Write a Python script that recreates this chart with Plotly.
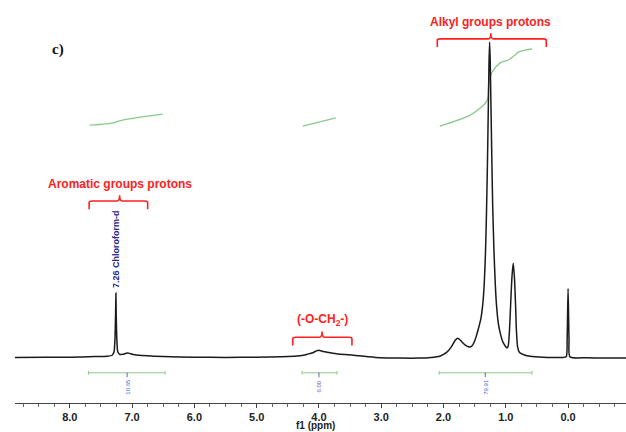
import plotly.graph_objects as go

# 1H NMR spectrum (ppm, relative intensity; main peak = 100)
ppm = [8.90, 8.40, 8.00, 7.60, 7.40, 7.32, 7.29, 7.275, 7.265, 7.26, 7.255, 7.245, 7.23,
       7.20, 7.15, 7.08, 7.04, 7.00, 6.90, 6.50, 6.00, 5.50, 5.00, 4.60, 4.40, 4.25, 4.19,
       4.10, 4.04, 4.00, 3.95, 3.82, 3.70, 3.47, 3.20, 3.02, 2.70, 2.40, 2.20, 2.06, 1.95,
       1.88, 1.82, 1.79, 1.77, 1.74, 1.70, 1.65, 1.60, 1.57, 1.53, 1.50, 1.47, 1.44, 1.40,
       1.37, 1.345, 1.325, 1.31, 1.295, 1.28, 1.27, 1.26, 1.25, 1.24, 1.225, 1.21, 1.19,
       1.17, 1.15, 1.12, 1.09, 1.04, 0.98, 0.96, 0.94, 0.92, 0.90, 0.88, 0.86, 0.84,
       0.83, 0.81, 0.78, 0.70, 0.61, 0.40, 0.10, 0.03, 0.015, 0.0, -0.015, -0.03, -0.30, -0.93]
intensity = [0.2, 0.3, 0.3, 0.5, 0.6, 0.9, 2.0, 6.0, 14.0, 20.6, 14.0, 6.0, 2.0,
             1.2, 1.2, 1.6, 1.5, 1.2, 0.9, 0.5, 0.3, 0.2, 0.3, 0.4, 0.6, 0.9, 1.2,
             1.7, 2.3, 2.5, 2.2, 1.7, 1.3, 1.0, 0.4, 0.1, 0.0, 0.0, 0.2, 0.6, 1.8,
             3.4, 5.4, 6.1, 6.3, 5.9, 5.0, 4.1, 3.6, 3.5, 4.2, 5.4, 7.2, 9.3, 12.5,
             17.0, 24.0, 34.0, 46.0, 61.0, 80.0, 93.0, 100.0, 94.0, 82.0, 64.0, 48.0, 34.0,
             24.0, 17.0, 11.0, 8.0, 4.8, 3.2, 4.0, 9.0, 18.0, 26.0, 30.0, 25.0, 15.0,
             9.0, 3.5, 1.8, 1.0, 0.6, 0.3, 0.2, 0.4, 6.0, 22.0, 6.0, 0.4, 0.1, 0.0]

# Integral curves
int1_ppm = [7.68, 7.28, 7.22, 6.51]
int1_val = [73.7, 74.5, 75.0, 77.2]
int2_ppm = [4.26, 3.73]
int2_val = [73.4, 76.0]
int3_ppm = [2.06, 1.57, 1.41, 1.30, 1.27, 1.22, 1.09, 0.96, 0.85, 0.80, 0.58]
int3_val = [73.4, 76.9, 79.1, 81.6, 87.0, 90.5, 93.4, 94.3, 95.9, 96.8, 97.8]

# Integration ranges (start, end, centre) and values
int_start = [7.70, 4.27, 2.07]
int_end = [6.47, 3.71, 0.58]
int_center = [7.08, 4.00, 1.33]
int_labels = ["10.65", "6.00", "79.91"]

# Group brackets
grp_labels = ["Aromatic groups protons", "(-O-CH<sub>2</sub>-)", "Alkyl groups protons"]
grp_left = [7.69, 4.42, 2.10]
grp_right = [6.75, 3.47, 0.35]
grp_center = [7.20, 3.95, 1.24]
grp_level = [49.7, 6.6, 101.0]

tick_vals = [8.0, 7.0, 6.0, 5.0, 4.0, 3.0, 2.0, 1.0, 0.0]
x_title = "f1 (ppm)"

fig = go.Figure()

green = "#8cc88c"
red = "#ff2020"

for xs, ys in [(int1_ppm, int1_val), (int2_ppm, int2_val), (int3_ppm, int3_val)]:
    fig.add_trace(go.Scatter(x=xs, y=ys, mode="lines", line=dict(color=green, width=1.3, shape="spline"),
                             hoverinfo="skip", showlegend=False))

fig.add_trace(go.Scatter(x=ppm, y=intensity, mode="lines",
                         line=dict(color="#1a1a1a", width=1.5, shape="spline", smoothing=0.6),
                         showlegend=False))

shapes = []
annotations = []
lvl = -4.65
for s, e, c, lab in zip(int_start, int_end, int_center, int_labels):
    shapes.append(dict(type="line", x0=s, x1=e, y0=lvl, y1=lvl, line=dict(color=green, width=1)))
    for xe in (s, e):
        shapes.append(dict(type="line", x0=xe, x1=xe, y0=lvl - 0.6, y1=lvl + 0.6, line=dict(color=green, width=1)))
    shapes.append(dict(type="line", x0=c, x1=c, y0=lvl, y1=lvl - 1.4, line=dict(color="#6060c0", width=1)))
    annotations.append(dict(x=c, y=-9.0, text=lab, showarrow=False, textangle=-90,
                            font=dict(size=6, color="#5a5acc", family="Liberation Sans")))

for lab, l, r, c, yv in zip(grp_labels, grp_left, grp_right, grp_center, grp_level):
    shapes.append(dict(type="path", xref="x", yref="y",
                       path=f"M {l},{yv-2.6} L {l},{yv-0.5} Q {l},{yv} {l-0.05},{yv} L {c+0.04},{yv} "
                            f"Q {c},{yv} {c},{yv+1.8} Q {c},{yv} {c-0.04},{yv} L {r+0.05},{yv} "
                            f"Q {r},{yv} {r},{yv-0.5} L {r},{yv-2.6}",
                       line=dict(color=red, width=1.6)))
    annotations.append(dict(x=c, y=yv + 5.4, text=f"<b>{lab}</b>", showarrow=False,
                            font=dict(size=12, color=red, family="Liberation Sans")))

annotations.append(dict(x=7.26, y=34.5, text="<b>7.26 Chloroform-d</b>", showarrow=False, textangle=-90,
                        font=dict(size=9, color="#25258a", family="Liberation Sans Narrow, Liberation Sans")))
annotations.append(dict(x=8.19, y=97.5, text="<b>c)</b>", showarrow=False,
                        font=dict(size=15, color="#111", family="Liberation Serif")))
# axis title just below the tick labels
annotations.append(dict(x=4.05, xref="x", y=-0.072, yref="paper", yanchor="bottom", text=f"<b>{x_title}</b>",
                        showarrow=False, borderpad=0,
                        font=dict(size=10, color="#222", family="Liberation Sans")))

fig.update_layout(
    width=626, height=432,
    margin=dict(l=15, r=0, t=0, b=29),
    plot_bgcolor="white", paper_bgcolor="white",
    shapes=shapes, annotations=annotations,
    xaxis=dict(range=[8.88, -0.93], showgrid=False, zeroline=False, automargin=False,
               showline=True, linecolor="#444", linewidth=1,
               tickvals=tick_vals, ticktext=[f"<b>{v:.1f}</b>" for v in tick_vals],
               ticks="outside", ticklen=4, tickcolor="#444",
               minor=dict(dtick=0.25, ticks="outside", ticklen=3, tickcolor="#666"),
               tickfont=dict(size=11, color="#222", family="Liberation Sans"),
               ticklabelstandoff=0),
    yaxis=dict(range=[-14.2, 113.3], visible=False),
)

fig.write_html("out.html")
